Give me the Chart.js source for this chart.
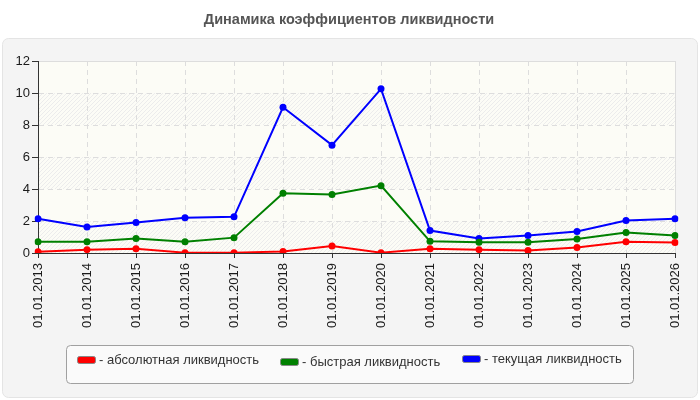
<!DOCTYPE html>
<html>
<head>
<meta charset="utf-8">
<script src="https://cdn.jsdelivr.net/npm/chart.js@4"></script>
<style>
    html, body { margin: 0; padding: 0; background: #ffffff; }
    #wrap { width: 700px; height: 400px; position: relative; }
</style>
</head>
<body>
<div id="wrap"><canvas id="liquidity-chart" width="700" height="400"></canvas></div>
<script>
// динамика коэффициентов ликвидности
const chartTitle = 'Динамика коэффициентов ликвидности';
const periods = ['01.01.2013', '01.01.2014', '01.01.2015', '01.01.2016', '01.01.2017', '01.01.2018', '01.01.2019',
    '01.01.2020', '01.01.2021', '01.01.2022', '01.01.2023', '01.01.2024', '01.01.2025', '01.01.2026'];
const absoluteRatio = [0.08, 0.21, 0.27, 0.02, 0.02, 0.10, 0.44, 0.02, 0.27, 0.21, 0.15, 0.34, 0.71, 0.65];
const quickRatio = [0.71, 0.71, 0.90, 0.71, 0.96, 3.73, 3.66, 4.21, 0.73, 0.67, 0.67, 0.88, 1.28, 1.09];
const currentRatio = [2.14, 1.63, 1.91, 2.20, 2.26, 9.11, 6.74, 10.26, 1.40, 0.90, 1.09, 1.34, 2.03, 2.14];
const seriesNames = ['- абсолютная ликвидность', '- быстрая ликвидность', '- текущая ликвидность'];
const seriesColors = ['#ff0000', '#008000', '#0000ff'];
const yTicks = [0, 2, 4, 6, 8, 10, 12];

const FONT = '"Liberation Sans", Arial, sans-serif';

function roundRect(ctx, x, y, w, h, r) {
    ctx.beginPath();
    ctx.moveTo(x + r, y);
    ctx.arcTo(x + w, y, x + w, y + h, r);
    ctx.arcTo(x + w, y + h, x, y + h, r);
    ctx.arcTo(x, y + h, x, y, r);
    ctx.arcTo(x, y, x + w, y, r);
    ctx.closePath();
}

function hatchPattern(ctx) {
    const c = document.createElement('canvas');
    c.width = 4; c.height = 4;
    const p = c.getContext('2d');
    p.fillStyle = '#fcfcf6';
    p.fillRect(0, 0, 4, 4);
    p.strokeStyle = '#ececec';
    p.lineWidth = 1;
    p.beginPath();
    p.moveTo(0, 4); p.lineTo(4, 0);
    p.moveTo(-1, 1); p.lineTo(1, -1);
    p.moveTo(3, 5); p.lineTo(5, 3);
    p.stroke();
    return ctx.createPattern(c, 'repeat');
}

const backgroundPlugin = {
    id: 'panelBackground',
    beforeDraw(chart) {
        const ctx = chart.ctx;
        const area = chart.chartArea;
        const y = chart.scales.y;
        ctx.save();
        // рамка панели
        roundRect(ctx, 2.5, 38.5, 695, 359, 6);
        ctx.fillStyle = '#f4f4f4';
        ctx.fill();
        ctx.strokeStyle = '#e4e4e4';
        ctx.lineWidth = 1;
        ctx.stroke();
        // заголовок
        ctx.fillStyle = '#555555';
        ctx.font = 'bold 14.5px ' + FONT;
        ctx.textAlign = 'center';
        ctx.textBaseline = 'middle';
        ctx.fillText(chartTitle, 349, 20);
        // область графика
        ctx.fillStyle = '#fcfcf6';
        ctx.fillRect(area.left, area.top, area.right - area.left, area.bottom - area.top);
        ctx.fillStyle = hatchPattern(ctx);
        for (let i = 0; i < yTicks.length - 1; i += 2) {
            const top = y.getPixelForValue(yTicks[i + 1]);
            const bottom = y.getPixelForValue(yTicks[i]);
            ctx.fillRect(area.left, top, area.right - area.left, bottom - top);
        }
        ctx.strokeStyle = '#dddddd';
        ctx.strokeRect(area.left + 0.5, area.top + 0.5, area.right - area.left, area.bottom - area.top);
        ctx.restore();
    }
};

const legendPlugin = {
    id: 'boxLegend',
    afterDraw(chart) {
        const ctx = chart.ctx;
        const xs = [77, 280, 462];
        const ys = [360, 362, 359];
        ctx.save();
        roundRect(ctx, 66.5, 345.5, 567, 38, 4);
        ctx.fillStyle = '#fafafa';
        ctx.fill();
        ctx.strokeStyle = '#a0a0a0';
        ctx.lineWidth = 1;
        ctx.stroke();
        ctx.font = '13px ' + FONT;
        ctx.textBaseline = 'middle';
        ctx.textAlign = 'left';
        chart.data.datasets.forEach((ds, i) => {
            roundRect(ctx, xs[i] + 0.5, ys[i] - 3.5, 18, 7, 2);
            ctx.fillStyle = ds.borderColor;
            ctx.fill();
            ctx.strokeStyle = '#888888';
            ctx.stroke();
            ctx.fillStyle = '#333333';
            ctx.fillText(ds.label, xs[i] + 22, ys[i]);
        });
        ctx.restore();
    }
};

const datasets = [absoluteRatio, quickRatio, currentRatio].map((values, i) => ({
    label: seriesNames[i],
    data: values,
    borderColor: seriesColors[i],
    backgroundColor: seriesColors[i],
    borderWidth: 2,
    pointRadius: 3.5,
    pointHoverRadius: 3.5,
    pointBorderWidth: 0,
    tension: 0,
    fill: false
}));

new Chart(document.getElementById('liquidity-chart').getContext('2d'), {
    type: 'line',
    data: { labels: periods, datasets: datasets },
    plugins: [backgroundPlugin, legendPlugin],
    options: {
        responsive: false,
        animation: false,
        devicePixelRatio: 1,
        layout: { padding: { top: 61, right: 25, left: 0, bottom: 0 } },
        plugins: { legend: { display: false }, title: { display: false }, tooltip: { enabled: false } },
        scales: {
            x: {
                offset: false,
                afterFit(scale) { scale.height = 147; },
                grid: { color: '#dddddd', tickColor: '#333333', tickLength: 5, drawOnChartArea: true },
                border: { display: true, color: '#333333', dash: [5, 4] },
                ticks: {
                    color: '#1a1a1a',
                    font: { family: FONT, size: 13 },
                    minRotation: 90, maxRotation: 90,
                    autoSkip: false,
                    padding: 5
                }
            },
            y: {
                min: 0, max: 12,
                afterFit(scale) { scale.width = 38; },
                afterBuildTicks(scale) { scale.ticks = yTicks.map(v => ({ value: v })); },
                grid: { color: '#dddddd', tickColor: '#333333', tickLength: 6 },
                border: { display: true, color: '#333333', dash: [5, 4] },
                ticks: {
                    color: '#1a1a1a',
                    font: { family: FONT, size: 13 },
                    padding: 2
                }
            }
        }
    }
});
</script>
</body>
</html>
